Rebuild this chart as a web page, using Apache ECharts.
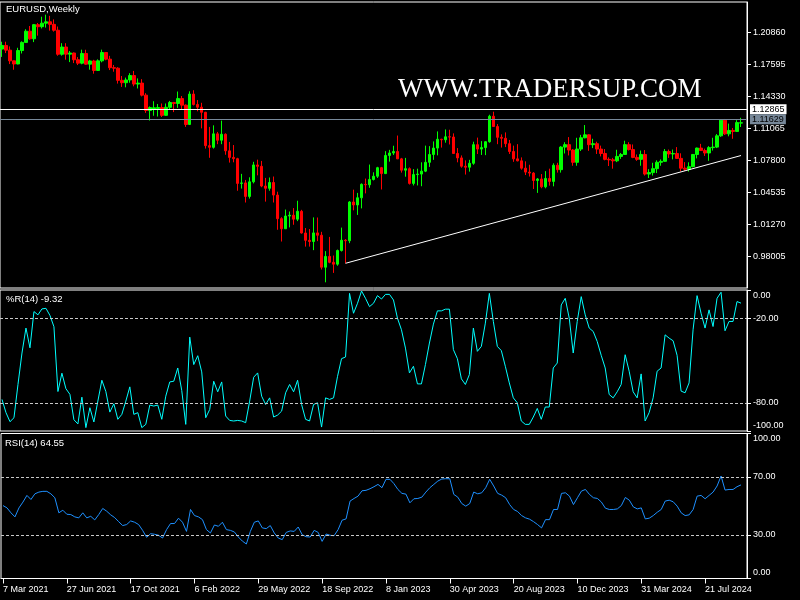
<!DOCTYPE html>
<html><head><meta charset="utf-8">
<script src="https://cdn.jsdelivr.net/npm/echarts@6/dist/echarts.min.js"></script>
<style>html,body{margin:0;padding:0;background:#000;}#c{width:800px;height:600px;}</style>
</head><body><div id="c"></div>
<script>
const dates = ["7 Mar 2021","14 Mar 2021","21 Mar 2021","28 Mar 2021","4 Apr 2021","11 Apr 2021","18 Apr 2021","25 Apr 2021","2 May 2021","9 May 2021","16 May 2021","23 May 2021","30 May 2021","6 Jun 2021","13 Jun 2021","20 Jun 2021","27 Jun 2021","4 Jul 2021","11 Jul 2021","18 Jul 2021","25 Jul 2021","1 Aug 2021","8 Aug 2021","15 Aug 2021","22 Aug 2021","29 Aug 2021","5 Sep 2021","12 Sep 2021","19 Sep 2021","26 Sep 2021","3 Oct 2021","10 Oct 2021","17 Oct 2021","24 Oct 2021","31 Oct 2021","7 Nov 2021","14 Nov 2021","21 Nov 2021","28 Nov 2021","5 Dec 2021","12 Dec 2021","19 Dec 2021","26 Dec 2021",
"2 Jan 2022","9 Jan 2022","16 Jan 2022","23 Jan 2022","30 Jan 2022","6 Feb 2022","13 Feb 2022","20 Feb 2022","27 Feb 2022","6 Mar 2022","13 Mar 2022","20 Mar 2022","27 Mar 2022","3 Apr 2022","10 Apr 2022","17 Apr 2022","24 Apr 2022","1 May 2022","8 May 2022","15 May 2022","22 May 2022","29 May 2022","5 Jun 2022","12 Jun 2022","19 Jun 2022","26 Jun 2022","3 Jul 2022","10 Jul 2022","17 Jul 2022","24 Jul 2022","31 Jul 2022","7 Aug 2022","14 Aug 2022","21 Aug 2022","28 Aug 2022","4 Sep 2022","11 Sep 2022","18 Sep 2022","25 Sep 2022","2 Oct 2022","9 Oct 2022","16 Oct 2022","23 Oct 2022","30 Oct 2022","6 Nov 2022","13 Nov 2022","20 Nov 2022","27 Nov 2022","4 Dec 2022","11 Dec 2022","18 Dec 2022","25 Dec 2022",
"1 Jan 2023","8 Jan 2023","15 Jan 2023","22 Jan 2023","29 Jan 2023","5 Feb 2023","12 Feb 2023","19 Feb 2023","26 Feb 2023","5 Mar 2023","12 Mar 2023","19 Mar 2023","26 Mar 2023","2 Apr 2023","9 Apr 2023","16 Apr 2023","23 Apr 2023","30 Apr 2023","7 May 2023","14 May 2023","21 May 2023","28 May 2023","4 Jun 2023","11 Jun 2023","18 Jun 2023","25 Jun 2023","2 Jul 2023","9 Jul 2023","16 Jul 2023","23 Jul 2023","30 Jul 2023","6 Aug 2023","13 Aug 2023","20 Aug 2023","27 Aug 2023","3 Sep 2023","10 Sep 2023","17 Sep 2023","24 Sep 2023","1 Oct 2023","8 Oct 2023","15 Oct 2023","22 Oct 2023","29 Oct 2023","5 Nov 2023","12 Nov 2023","19 Nov 2023","26 Nov 2023","3 Dec 2023","10 Dec 2023","17 Dec 2023","24 Dec 2023","31 Dec 2023",
"7 Jan 2024","14 Jan 2024","21 Jan 2024","28 Jan 2024","4 Feb 2024","11 Feb 2024","18 Feb 2024","25 Feb 2024","3 Mar 2024","10 Mar 2024","17 Mar 2024","24 Mar 2024","31 Mar 2024","7 Apr 2024","14 Apr 2024","21 Apr 2024","28 Apr 2024","5 May 2024","12 May 2024","19 May 2024","26 May 2024","2 Jun 2024","9 Jun 2024","16 Jun 2024","23 Jun 2024","30 Jun 2024","7 Jul 2024","14 Jul 2024","21 Jul 2024","28 Jul 2024","4 Aug 2024","11 Aug 2024","18 Aug 2024","25 Aug 2024","1 Sep 2024","8 Sep 2024","15 Sep 2024","22 Sep 2024"];

const opens = [1.1915,1.1952,1.1904,1.1795,1.1763,1.1900,1.1983,1.2097,1.2020,1.2164,1.2143,1.2179,1.2193,1.2167,1.2107,1.1862,1.1936,1.1863,1.1875,1.1806,1.1771,1.1870,1.1761,1.1794,1.1697,1.1795,1.1880,1.1812,1.1725,1.1720,1.1596,1.1572,1.1600,1.1645,1.1558,1.1568,1.1445,1.1289,1.1300,1.1310,1.1318,1.1239,1.1321,1.1370,1.1360,1.1410,1.1343,1.1146,1.1456,1.1350,1.1322,1.1270,1.0930,1.0913,1.1050,1.0985,1.1046,1.0877,1.0810,1.0797,1.0545,1.0550,1.0412,1.0561,1.0733,1.0719,1.0518,1.0495,1.0554,1.0426,1.0185,1.0082,1.0212,1.0220,1.0180,1.0260,1.0039,0.9964,0.9952,1.0040,1.0016,0.9690,0.9800,0.9740,0.9721,0.9860,0.9965,0.9960,1.0355,1.0325,1.0398,1.0535,1.0531,1.0585,1.0618,1.0705,1.0645,1.0830,1.0855,1.0870,1.0795,1.0680,1.0695,1.0545,1.0635,1.0640,1.0670,1.0760,1.0840,1.0905,1.0995,1.0990,1.1020,1.1018,1.0850,1.0805,1.0720,1.0710,1.0750,1.0940,1.0895,1.0910,1.0970,1.1230,1.1125,1.1015,1.1005,1.0950,1.0870,1.0795,1.0775,1.0700,1.0660,1.0650,1.0575,1.0590,1.0510,1.0595,1.0565,1.0730,1.0685,1.0915,1.0940,1.0885,1.0760,1.0895,1.1010,1.1040,1.0940,1.0950,1.0895,1.0850,1.0790,1.0785,1.0775,1.0820,1.0840,1.0940,1.0890,1.0810,1.0790,1.0840,1.0640,1.0655,1.0695,1.0760,1.0770,1.0870,1.0845,1.0850,1.0800,1.0700,1.0690,1.0715,1.0840,1.0905,1.0880,1.0855,1.0910,1.0915,1.1030,1.1190,1.1050,1.1085,1.1075,1.1160];
const highs = [1.1990,1.1990,1.1942,1.1797,1.1928,1.1994,1.2117,1.2150,1.2171,1.2181,1.2245,1.2266,1.2254,1.2218,1.2145,1.1975,1.1975,1.1895,1.1880,1.1833,1.1909,1.1908,1.1805,1.1805,1.1810,1.1909,1.1885,1.1846,1.1753,1.1730,1.1640,1.1624,1.1669,1.1692,1.1616,1.1608,1.1465,1.1330,1.1383,1.1355,1.1360,1.1360,1.1386,1.1376,1.1482,1.1436,1.1350,1.1484,1.1495,1.1395,1.1367,1.1275,1.1121,1.1137,1.1070,1.1185,1.1055,1.0968,1.0936,1.0806,1.0642,1.0580,1.0607,1.0765,1.0787,1.0774,1.0601,1.0605,1.0615,1.0460,1.0200,1.0278,1.0258,1.0293,1.0368,1.0275,1.0090,1.0079,1.0198,1.0197,1.0051,0.9854,0.9999,0.9809,0.9870,1.0094,0.9976,1.0364,1.0481,1.0448,1.0545,1.0594,1.0737,1.0658,1.0714,1.0713,1.0874,1.0887,1.0929,1.1033,1.0805,1.0805,1.0708,1.0690,1.0695,1.0760,1.0930,1.0925,1.0973,1.1075,1.1000,1.1095,1.1092,1.1055,1.0905,1.0830,1.0780,1.0785,1.0970,1.1012,1.0976,1.0975,1.1245,1.1276,1.1150,1.1045,1.1065,1.0988,1.0930,1.0945,1.0810,1.0770,1.0735,1.0660,1.0600,1.0640,1.0670,1.0695,1.0750,1.0755,1.0925,1.0965,1.1017,1.0895,1.1010,1.1040,1.1140,1.1045,1.1000,1.0970,1.0930,1.0895,1.0810,1.0805,1.0888,1.0855,1.0980,1.0965,1.0942,1.0840,1.0880,1.0885,1.0690,1.0755,1.0780,1.0790,1.0895,1.0890,1.0890,1.0915,1.0852,1.0762,1.0760,1.0845,1.0910,1.0948,1.0900,1.0925,1.1010,1.1048,1.1201,1.1202,1.1155,1.1110,1.1190,1.1214];
const lows = [1.1835,1.1874,1.1762,1.1704,1.1760,1.1870,1.1980,1.2010,1.1986,1.2052,1.2125,1.2134,1.2103,1.2093,1.1847,1.1848,1.1807,1.1782,1.1772,1.1752,1.1760,1.1755,1.1705,1.1664,1.1692,1.1780,1.1801,1.1701,1.1684,1.1563,1.1529,1.1525,1.1572,1.1535,1.1513,1.1432,1.1264,1.1186,1.1235,1.1227,1.1222,1.1235,1.1300,1.1272,1.1315,1.1300,1.1121,1.1140,1.1340,1.1280,1.1106,1.0900,1.0806,1.0900,1.0945,1.0945,1.0837,1.0757,1.0760,1.0470,1.0492,1.0350,1.0390,1.0545,1.0627,1.0506,1.0359,1.0470,1.0350,1.0072,0.9952,1.0080,1.0096,1.0123,1.0160,1.0033,0.9900,0.9900,0.9864,0.9956,0.9667,0.9536,0.9730,0.9632,0.9705,0.9850,0.9730,0.9935,1.0270,1.0223,1.0290,1.0443,1.0500,1.0575,1.0600,1.0483,1.0640,1.0767,1.0835,1.0793,1.0655,1.0613,1.0533,1.0524,1.0524,1.0516,1.0660,1.0713,1.0785,1.0831,1.0910,1.0960,1.0942,1.0848,1.0760,1.0705,1.0635,1.0665,1.0735,1.0845,1.0835,1.0833,1.0960,1.1120,1.0945,1.0910,1.0915,1.0845,1.0765,1.0770,1.0685,1.0630,1.0615,1.0488,1.0448,1.0495,1.0495,1.0522,1.0515,1.0655,1.0655,1.0850,1.0830,1.0725,1.0725,1.0875,1.1005,1.0877,1.0905,1.0845,1.0820,1.0780,1.0722,1.0695,1.0762,1.0795,1.0835,1.0880,1.0802,1.0775,1.0725,1.0625,1.0600,1.0625,1.0650,1.0725,1.0765,1.0805,1.0790,1.0795,1.0668,1.0672,1.0665,1.0710,1.0800,1.0875,1.0825,1.0775,1.0880,1.0905,1.1020,1.1040,1.1025,1.1000,1.1070,1.1120];
const closes = [1.1952,1.1904,1.1795,1.1763,1.1900,1.1983,1.2097,1.2020,1.2164,1.2143,1.2179,1.2193,1.2167,1.2107,1.1862,1.1936,1.1863,1.1875,1.1806,1.1771,1.1870,1.1761,1.1794,1.1697,1.1795,1.1880,1.1812,1.1725,1.1720,1.1596,1.1572,1.1600,1.1645,1.1558,1.1568,1.1445,1.1289,1.1318,1.1316,1.1318,1.1239,1.1321,1.1370,1.1360,1.1410,1.1343,1.1146,1.1456,1.1350,1.1322,1.1270,1.0930,1.0913,1.1050,1.0985,1.1046,1.0877,1.0810,1.0797,1.0545,1.0550,1.0412,1.0561,1.0733,1.0719,1.0518,1.0495,1.0554,1.0426,1.0185,1.0082,1.0212,1.0220,1.0180,1.0260,1.0039,0.9964,0.9952,1.0040,1.0016,0.9690,0.9800,0.9740,0.9721,0.9860,0.9965,0.9960,1.0355,1.0325,1.0398,1.0535,1.0531,1.0585,1.0618,1.0705,1.0645,1.0830,1.0855,1.0870,1.0795,1.0680,1.0695,1.0545,1.0635,1.0640,1.0670,1.0760,1.0840,1.0905,1.0995,1.0990,1.1020,1.1018,1.0850,1.0805,1.0720,1.0710,1.0750,1.0940,1.0895,1.0910,1.0970,1.1230,1.1125,1.1015,1.1005,1.0950,1.0870,1.0795,1.0775,1.0700,1.0660,1.0650,1.0575,1.0590,1.0510,1.0595,1.0565,1.0730,1.0685,1.0915,1.0940,1.0885,1.0760,1.0895,1.1010,1.1040,1.0940,1.0950,1.0895,1.0850,1.0790,1.0785,1.0775,1.0820,1.0840,1.0940,1.0890,1.0810,1.0790,1.0840,1.0640,1.0655,1.0695,1.0760,1.0770,1.0870,1.0845,1.0850,1.0800,1.0700,1.0690,1.0715,1.0840,1.0905,1.0880,1.0855,1.0910,1.0915,1.1030,1.1190,1.1050,1.1085,1.1075,1.1165,1.1163];

const willR = [-77.6,-87,-93.4,-90.6,-67,-44.7,-27,-41,-15.3,-17.6,-13.4,-13,-18,-26,-72,-59,-70,-74,-92,-95,-76,-97.6,-83.5,-93.6,-78.8,-64,-72,-86.6,-80.7,-91.7,-88.2,-78.8,-68.7,-88.2,-87,-97.6,-95.3,-81.6,-82.3,-81.6,-91.7,-75.3,-65.2,-64.7,-55.3,-71.3,-95.3,-33.4,-52.9,-46.6,-58.1,-90.6,-84.7,-64.7,-72.2,-65.2,-89.4,-92.5,-92.9,-92.5,-92.9,-94.1,-78.8,-61.9,-58.8,-75.3,-81.2,-76.5,-90.1,-88.7,-85.9,-72.9,-67,-72.2,-64,-81.2,-91.7,-92.9,-81.2,-80,-97.2,-76.5,-77.6,-76.5,-61.2,-48.7,-47.5,-2.4,-16.5,-9.4,-0.7,-5.9,-11.8,-9.4,-4,-6.4,-3.1,-3.1,-7.1,-20,-28.2,-41.2,-58.8,-54.1,-66.6,-66.6,-52.9,-37.6,-24.2,-14.8,-14.8,-13.6,-13.6,-42.3,-48.7,-63,-67,-60,-27,-43.5,-40,-23.5,-2.4,-22.3,-40,-43,-54.1,-65.9,-76.5,-80,-92.9,-95.3,-95.3,-90.1,-84,-91.7,-83,-83,-55.3,-51.8,-10.6,-5.9,-20,-44.7,-22.3,-4.7,-17.6,-27,-29.4,-36.5,-46.3,-55.3,-74.1,-76.5,-72.2,-67,-45.9,-57.6,-72.2,-76.5,-59.5,-92.9,-87,-76.5,-57.6,-55.3,-31.8,-34.1,-36,-46.3,-71.7,-72.9,-65.9,-28.2,-4,-16.5,-27,-14.1,-25.9,-5.9,-1.6,-28.9,-22.3,-22.3,-8.2,-9.32];
const rsi = [50.3,48.7,45.3,42.5,48.7,52.7,57.3,54.5,58.4,59.6,60.1,60.1,58.4,55.7,45.3,47.1,44.3,44.1,42.5,41.8,45.3,41.8,42.9,40.4,44.1,48.3,46.4,43.9,42,39.2,36.5,37.2,39.7,38.8,37.2,33.2,28.4,30.9,30.5,29.8,27.9,33.7,37.9,37.9,41.6,38.8,32.5,47.6,43.4,42.5,40.6,33.7,31.4,36.9,36,38.8,33.7,33.2,32.1,28.6,25.8,23.8,32.5,38.8,39.7,34.9,34.4,36.5,31.4,27.9,26.8,31.8,32.8,32.5,35.5,30.2,28.8,28.6,33.2,31.8,25.6,30.7,29.8,29.5,33.7,40.2,41.1,53.4,55.2,56.8,60.5,60.8,61.9,63.3,64.9,62.6,68.4,68.4,65.4,61.4,58.7,58.2,52.2,55,55.2,56.1,59.6,62.6,64.9,67.2,68.6,68.8,68.8,58,56.1,51.7,49.9,51.7,59.6,58.4,59.1,62.6,68.4,63.8,58.7,57.5,55.7,51,47.6,46.2,43.4,41.8,40.9,39.2,37.2,34.9,40.6,40.6,47.6,47.6,58.7,59.1,56.8,51,55.7,60.3,61.4,58,55.7,55.2,52.7,48.5,47.6,47.6,48,50.3,55.9,54,49.4,48,48.7,41.1,41.6,43.4,45.7,47.6,53.4,54,52.9,49.9,45.3,43.4,43.9,47.6,56.8,57.3,55,57.3,59.6,63.8,70.7,61,61.4,61.4,63.3,64.55];

const priceTicks = [0.98005,1.01270,1.04535,1.07800,1.11065,1.14330,1.17595,1.20860];
const wprTicks = [0,-20,-80,-100];
const rsiTicks = [0,30,70,100];
const wprLevels = [-20,-80];
const rsiLevels = [30,70];
const resistanceLevel = 1.12865;
const bidLevel = 1.11629;
const trendPoints = [[86,0.9730],[185,1.0829]];
const symbolName = 'EURUSD,Weekly';
const wprName = '%R(14) -9.32';
const rsiName = 'RSI(14) 64.55';
const watermark = 'WWW.TRADERSUP.COM';

const FONT = 'Liberation Sans, Arial, sans-serif';
const N = dates.length;
const chart = echarts.init(document.getElementById('c'), null, {renderer:'canvas', width:800, height:600});
const ohlc = opens.map((o,i)=>[o, closes[i], lows[i], highs[i]]);
const every16 = (idx)=> idx % 16 === 0 && idx < N;

function grid(top,h){return {left:0, top:top, width:747, height:h, show:true, borderColor:'#ffffff', borderWidth:1, backgroundColor:'transparent'};}
function xAx(i){
  const b = i===2;
  return {type:'category', gridIndex:i, data:dates, boundaryGap:true, max:N,
    axisLine:{show:b, lineStyle:{color:'#fff'}},
    axisTick:{show:b, alignWithLabel:true, interval:every16, length:5, lineStyle:{color:'#fff'}},
    axisLabel:{show:b, interval:every16, align:'left', color:'#fff', fontFamily:FONT, fontSize:9, margin:7},
    splitLine:{show:false}, axisPointer:{show:false}};
}
function yAx(i,min,max,ticks,fmt){
  return {type:'value', gridIndex:i, position:'right', min:min, max:max,
    axisLine:{show:true, onZero:false, lineStyle:{color:'#fff'}},
    axisTick:{show:true, length:4, customValues:ticks, lineStyle:{color:'#fff'}},
    axisLabel:{customValues:ticks, formatter:fmt, color:'#fff', fontFamily:FONT, fontSize:9, margin:6,
      rich:{dn:{padding:[11,0,0,0], color:'#fff', fontFamily:FONT, fontSize:9}, up:{padding:[0,0,11,0], color:'#fff', fontFamily:FONT, fontSize:9}}},
    splitLine:{show:false}};
}
const levelLine = (vals)=>({symbol:'none', silent:true, animation:false, label:{show:false},
  lineStyle:{color:'#c8c8c8', type:[3,2], width:1}, data: vals.map(v=>({yAxis:v}))});
const txt = ()=>({color:'#fff', fontFamily:FONT, fontSize:9.5, fontWeight:'normal'});

chart.setOption({
  backgroundColor:'#000000',
  animation:false,
  title:[
    {text:symbolName, left:6, top:4.5, padding:0, textStyle:txt()},
    {text:wprName, left:6, top:294.5, padding:0, textStyle:txt()},
    {text:rsiName, left:5, top:438, padding:0, textStyle:txt()},
    {text:watermark, left:398, top:76, padding:0, textStyle:{color:'#fff', fontFamily:'Liberation Serif, Times New Roman, serif', fontSize:27, fontWeight:'normal'}}
  ],
  grid:[grid(2,286), grid(290,141), grid(433.5,145)],
  xAxis:[xAx(0), xAx(1), xAx(2)],
  yAxis:[
    yAx(0,0.94779,1.23951,priceTicks,(v)=>v.toFixed(5)),
    yAx(1,-100,0,wprTicks,(v)=> v===0 ? '{dn|0.00}' : (v===-100 ? '{up|-100.00}' : v.toFixed(2))),
    yAx(2,0,100,rsiTicks,(v)=> v===100 ? '{dn|100.00}' : (v===0 ? '{up|0.00}' : v.toFixed(2)))
  ],
  series:[
    {type:'candlestick', xAxisIndex:0, yAxisIndex:0, data:ohlc, barWidth:3,
      itemStyle:{color:'#00ff00', color0:'#ff0000', borderColor:'#00ff00', borderColor0:'#ff0000', borderWidth:1},
      markLine:{symbol:'none', silent:true, animation:false,
        data:[
          {yAxis:resistanceLevel, lineStyle:{color:'#ffffff', width:1, type:'solid'},
            label:{show:true, position:'end', distance:3, formatter:resistanceLevel.toFixed(5), backgroundColor:'#ffffff', color:'#000', padding:[1,2,0,2], fontFamily:FONT, fontSize:9}},
          {yAxis:bidLevel, lineStyle:{color:'#778899', width:1, type:'solid'},
            label:{show:true, position:'end', distance:3, formatter:bidLevel.toFixed(5), backgroundColor:'#778899', color:'#000', padding:[1,2,0,2], fontFamily:FONT, fontSize:9}}
        ]}},
    {type:'line', xAxisIndex:0, yAxisIndex:0, data:trendPoints, showSymbol:false, symbol:'none', silent:true,
      lineStyle:{color:'#ffffff', width:1}},
    {type:'line', xAxisIndex:1, yAxisIndex:1, data:willR, showSymbol:false, symbol:'none', silent:true,
      lineStyle:{color:'#00ffff', width:1}, markLine:levelLine(wprLevels)},
    {type:'line', xAxisIndex:2, yAxisIndex:2, data:rsi, showSymbol:false, symbol:'none', silent:true,
      lineStyle:{color:'#1e90ff', width:1}, markLine:levelLine(rsiLevels)}
  ]
});
</script></body></html>
